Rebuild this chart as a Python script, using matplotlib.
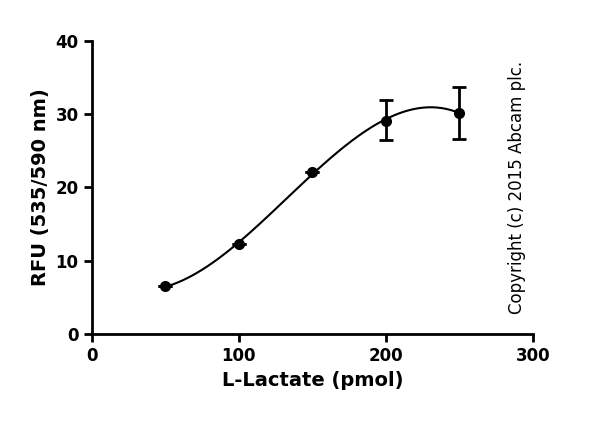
import numpy as np
import matplotlib
matplotlib.use("Agg")
import matplotlib.pyplot as plt

lactate = [50, 100, 150, 200, 250]
rfu = [6.5, 12.3, 22.1, 29.1, 30.2]
err_low = [0, 0, 0, 2.6, 3.6]
err_high = [0, 0, 0, 2.8, 3.5]
xticks = [0, 100, 200, 300]
yticks = [0, 10, 20, 30, 40]

fig = plt.figure(figsize=(6, 4.25), dpi=100)
ax = fig.add_axes([0.153, 0.214, 0.735, 0.69])

coef = np.polyfit(lactate, rfu, 3)
xs = np.linspace(50, 250, 200)
ax.plot(xs, np.polyval(coef, xs), color="black", lw=1.5)
ax.errorbar(lactate, rfu, yerr=[err_low, err_high], fmt="o", color="black",
            ms=7, elinewidth=2, capsize=5, capthick=2)

ax.set_xlim(0, 300)
ax.set_ylim(0, 40)
ax.set_xticks(xticks)
ax.set_yticks(yticks)
for s in ["top", "right"]:
    ax.spines[s].set_visible(False)
for s in ["left", "bottom"]:
    ax.spines[s].set_linewidth(2)
ax.tick_params(width=2, length=6, labelsize=12)
for lab in ax.get_xticklabels() + ax.get_yticklabels():
    lab.set_fontweight("bold")
ax.set_xlabel("L-Lactate (pmol)", fontsize=14, fontweight="bold")
ax.set_ylabel("RFU (535/590 nm)", fontsize=14, fontweight="bold")
ax.text(0.965, 0.5, "Copyright (c) 2015 Abcam plc.", transform=ax.transAxes,
        rotation=90, ha="center", va="center", fontsize=12)
fig.savefig("out.png", dpi=100)
